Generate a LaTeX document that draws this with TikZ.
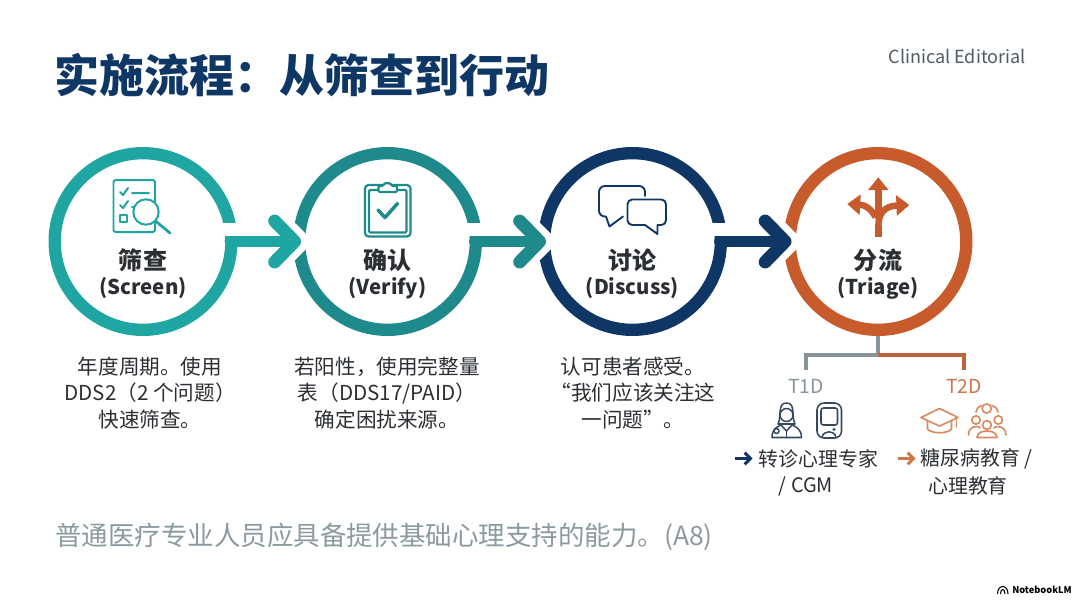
\documentclass[tikz,border=0pt]{standalone}
\usepackage{fontspec}
\setmainfont{Noto Sans CJK SC}
\usetikzlibrary{arrows.meta,calc}
\definecolor{stepTeal}{HTML}{1FA5A2}
\definecolor{stepSea}{HTML}{1F8A8C}
\definecolor{stepNavy}{HTML}{0F3766}
\definecolor{stepRust}{HTML}{C75B2B}
\definecolor{inkDark}{HTML}{2B2F33}
\definecolor{inkGrey}{HTML}{4F5A62}
\definecolor{noteGrey}{HTML}{8B9A9F}
\definecolor{forkGrey}{HTML}{87959A}
\definecolor{iconNavy}{HTML}{34495F}
\definecolor{iconRust}{HTML}{D98A5F}
\begin{document}
\begin{tikzpicture}[x=0.03cm,y=-0.03cm,
  ring/.style={circle,draw=#1,line width=10.5pt,minimum size=5.3cm,inner sep=0pt},
  stepname/.style={inner sep=0pt,text=inkDark,font=\fontsize{20.5}{24}\selectfont\bfseries},
  stepword/.style={inner sep=0pt,text=inkDark,font=\fontsize{17.4}{21}\selectfont\bfseries},
  stepnote/.style={align=center,text=inkDark,font=\fontsize{17.6}{22.6}\selectfont},
  linkarrow/.style={line width=10pt,line cap=round,-{Straight Barb[length=17pt,width=35pt,line width=11pt,round]}},
  forkline/.style={line width=3pt},
  forkname/.style={inner sep=0pt,font=\fontsize{16.5}{20}\selectfont},
  outcome/.style={align=center,inner sep=0pt,text=inkDark,font=\fontsize{17}{23}\selectfont},
  minarrow/.style={line width=2.6pt,-{Straight Barb[length=5pt,width=10pt,line width=2.6pt]}},
  splittip/.style={-{Triangle[length=11pt,width=17pt]}},
  thinicon/.style={line width=#1,line cap=round,line join=round},
  thinicon/.default=1.5pt]
\useasboundingbox (0,0) rectangle (1080,602);
\node[anchor=west,inner sep=0pt,text=stepNavy,font=\fontsize{38.4}{44}\selectfont\bfseries] (title) at (54,75) {实施流程：从筛查到行动};
\node[anchor=east,inner sep=0pt,text=inkGrey,font=\fontsize{15.4}{19}\selectfont] (brand) at (1026,56) {Clinical Editorial};
\foreach \name/\x/\col/\zh/\en in {screen/143/stepTeal/筛查/Screen,verify/387.5/stepSea/确认/Verify,discuss/632.5/stepNavy/讨论/Discuss,triage/878/stepRust/分流/Triage}{
  \node[ring=\col] (\name) at (\x,241.5) {};
  \node[stepname] (\name name) at (\x,260) {\zh};
  \node[stepword] (\name word) at (\x,288) {(\en)};
}
\foreach \a/\b/\col in {screen/verify/stepTeal,verify/discuss/stepSea,discuss/triage/stepNavy}{
  \fill[white] ($(\a.east)+(-18,-18.5)$) rectangle ($(\a.east)+(6,-6)$);
  \fill[white] ($(\b.west)+(20.5,0)$) -- ++(-30,-30) -- ++(0,60) -- cycle;
  \draw[linkarrow,\col] ($(\a.east)+(-7,0)$) -- ($(\b.west)+(8,0)$);
}
\begin{scope}[stepTeal,thinicon=1.7pt]
  \draw[rounded corners=1.5pt] (113.5,180) rectangle (155,232);
  \draw (120,192) -- (123,195) -- (128,188) (132,193) -- (149,193);
  \draw (120,205) -- (123,208) -- (128,201) (132,207) -- (136,207);
  \draw (120,215) rectangle (127,222);
  \draw[fill=white] (146,212) circle (12.7);
  \draw[line width=2.4pt] (155.5,221) -- (170,233);
\end{scope}
\begin{scope}[stepSea,thinicon=1.9pt]
  \draw[rounded corners=3pt] (365,185) rectangle (410.5,236.5);
  \draw[rounded corners=1pt] (369,190) rectangle (406.5,232.5);
  \draw[fill=white,rounded corners=1pt] (378.5,192) -- (378.5,186) -- (383,186) arc (200:340:4.7 and 4.7) -- (397,186) -- (397,192) -- cycle;
  \draw[line width=3pt] (378,210) -- (385,217.5) -- (397.5,203.5);
\end{scope}
\begin{scope}[stepNavy,thinicon=1.6pt]
  \draw[rounded corners=5pt] (645,196) -- (645,186) -- (599,186) -- (599,216.5) -- (606,216.5);
  \draw (606,216.5) -- (609.5,226.5) -- (623,216.5);
  \draw[rounded corners=4pt] (645,225) -- (627.5,225) -- (627.5,199.5) -- (666,199.5) -- (666,225) -- (657.5,225);
  \draw (645,225) -- (657.5,234) -- (657.5,225);
\end{scope}
\begin{scope}[stepRust,line width=5.5pt]
  \draw (878.3,236.5) -- (878.3,225);
  \draw[splittip] (878.3,219) -- (878.3,177.3);
  \draw[splittip] (878.3,227) .. controls (878.3,214) and (884,206) .. (909.3,205);
  \draw[splittip] (875.5,217) .. controls (871,209) and (866,205) .. (847.3,204);
\end{scope}
\node[forkname,text=forkGrey] (t1d) at (806,386.5) {T1D};
\node[forkname,text=stepRust!85!white] (t2d) at (964,386.5) {T2D};
\coordinate (forkhub) at (878,355);
\draw[forkline,forkGrey] (triage.south) -- (forkhub) -| ($(t1d.north)+(0,-9)$);
\draw[forkline,stepRust!85!forkGrey] (forkhub) -| ($(t2d.north)+(0,-9)$);
\begin{scope}[iconNavy,thinicon=1.3pt]
  \draw (786.5,415) circle (6.5);
  \draw (778,424) .. controls (782,416) and (777,403) .. (786.5,403) .. controls (796,403) and (791,416) .. (795,424) -- (778,424);
  \draw (772,437.5) .. controls (772,430) and (776,427) .. (781,425) -- (786.5,431) -- (792,425) .. controls (797,427) and (801.5,430) .. (801.5,437.5) -- cycle;
  \draw (786.5,431) -- (786.5,437.5);
  \draw (776.5,431) circle (2.5);
  \draw[rounded corners=6pt] (817,403) rectangle (841.5,438);
  \draw[rounded corners=2pt] (821,408) rectangle (837.5,425);
  \fill (834,429.5) circle (1.6);
  \draw (822,437) .. controls (824,430) and (834,430) .. (836,437);
\end{scope}
\begin{scope}[iconRust,thinicon=1.4pt]
  \draw (921,417.5) -- (939.5,408.5) -- (958,417.5) -- (939.5,426) -- cycle;
  \draw (927.5,421) -- (927.5,429) .. controls (932,434) and (947,434) .. (951.5,429) -- (951.5,421);
  \draw (956.5,418.5) -- (956.5,427);
  \draw (986.7,408.5) circle (4.6);
  \draw (976,420) circle (4.2) (998.3,420) circle (4.2) (987,425) circle (4.4);
  \draw (976,412) .. controls (977,408) and (979,406) .. (981.5,405.5);
  \draw (992,405.5) .. controls (994.5,406) and (997,408) .. (998,412);
  \draw (968.5,435) .. controls (968.5,429) and (972,427) .. (976,426.5) .. controls (978,426.5) and (979,427) .. (980,428);
  \draw (1006,435) .. controls (1006,429) and (1002,427) .. (998,426.5) .. controls (996,426.5) and (995,427) .. (994,428);
  \draw (977,437.5) .. controls (977,433) and (982,431) .. (987,431) .. controls (992,431) and (997,433) .. (997,437.5) -- cycle;
\end{scope}
\node[outcome] (refertext) at (818.5,458.5) {转诊心理专家};
\node[outcome] (refertail) at (806,486) {/ CGM};
\coordinate (referfrom) at (735,458.5);
\draw[minarrow,stepNavy] (referfrom) -- ([xshift=-5pt]refertext.west);
\node[outcome] (teachtext) at (976.5,458.5) {糖尿病教育 /};
\node[outcome] (teachtail) at (968,486) {心理教育};
\coordinate (teachfrom) at (898,458.5);
\draw[minarrow,stepRust!85!white] (teachfrom) -- ([xshift=-4pt]teachtext.west);
\node[stepnote] (screennote) at (150,393) {年度周期。使用\\DDS2（2 个问题）\\快速筛查。};
\node[stepnote] (verifynote) at (387,393) {若阳性，使用完整量\\表（DDS17/PAID）\\确定困扰来源。};
\node[stepnote] (discussnote) at (633,393) {认可患者感受。\\“我们应该关注这\\一问题”。};
\node[anchor=west,inner sep=0pt,text=noteGrey,font=\fontsize{22.6}{26}\selectfont] (capability) at (55,537) {普通医疗专业人员应具备提供基础心理支持的能力。(A8)};
\node[anchor=east,inner sep=0pt,text=black,font=\fontsize{7.9}{10}\selectfont\bfseries] (maker) at (1072,590) {NotebookLM};
\begin{scope}[black,line width=0.9pt]
  \draw (997.5,594) .. controls (997.5,584) and (1008,584) .. (1008,594);
  \draw (1000.5,594) .. controls (1000.5,588) and (1005,588) .. (1005,594);
\end{scope}
\end{tikzpicture}
\end{document}
